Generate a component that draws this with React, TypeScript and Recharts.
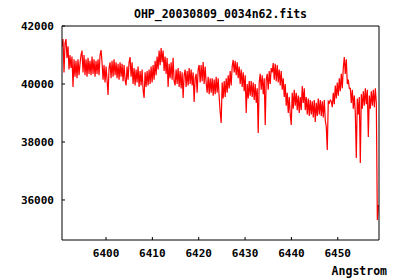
import { LineChart, Line, XAxis, YAxis } from "recharts";

const TITLE = "OHP_20030809_0034n62.fits";
const X_LABEL = "Angstrom";

const X_TICKS = [6400, 6410, 6420, 6430, 6440, 6450];
const Y_TICKS = [36000, 38000, 40000, 42000];

// sampling grid of the spectrum (Angstrom)
const WL_START = 6390.5;
const WL_STEP = 0.216;

// flux, one sample per grid step
const FLUX = [
  41300, 41550, 40400, 41400, 41550, 40900, 41300, 40500, 41000, 40550,
  40950, 39900, 40850, 40250, 40800, 40200, 40850, 40300, 40700, 41000,
  41150, 40400, 41000, 40300, 40850, 40250, 40900, 40350, 40800, 40300,
  40950, 40350, 40850, 40250, 40800, 40350, 40850, 40300, 41000, 41170,
  40750, 40150, 40650, 40050, 40600, 40150, 39620, 40550, 40750, 40200,
  40800, 40250, 40850, 40300, 40750, 40200, 40700, 40150, 40750, 40250,
  40700, 40100, 40650, 40150, 39950, 40600, 40150, 40750, 40930, 40250,
  40750, 40000, 40550, 39950, 40500, 40050, 40600, 39900, 40450, 39950,
  40500, 39800, 39520, 40400, 39900, 40450, 39950, 40500, 40000, 40600,
  40050, 40650, 40150, 40800, 40300, 40950, 40500, 41150, 40650, 41240,
  40750, 41150, 40450, 40950, 40350, 40900, 39900, 40700, 40200, 40750,
  40150, 40900, 40100, 39950, 40500, 40000, 40550, 39900, 40450, 39850,
  40400, 39520, 40300, 40500, 39900, 40450, 39950, 40550, 40000, 40500,
  39950, 40400, 39380, 40200, 40350, 39700, 40500, 40655, 40050, 40650,
  40100, 40760, 40000, 40600, 40050, 39700, 40250, 39650, 40200, 39700,
  40200, 39600, 40150, 39650, 40250, 39700, 40200, 39550, 39035, 38655,
  40050, 39500, 40100, 39550, 40200, 39700, 40300, 39850, 40450, 39950,
  40600, 40830, 40400, 40800, 40300, 40750, 40200, 40600, 40000, 40500,
  39900, 40400, 39750, 40300, 39000, 40000, 39500, 40100, 39600, 40100,
  39550, 40050, 39450, 40000, 39350, 39850, 38310, 40050, 40350, 39800,
  40300, 39650, 40200, 38590, 40150, 40350, 39800, 40450, 40000, 40550,
  40400, 40725, 40150, 40700, 40100, 40650, 40050, 40500, 39950, 40450,
  39800, 40200, 39550, 40000, 39250, 39700, 39000, 39550, 38950, 38590,
  39700, 39150, 39800, 39250, 39700, 39100, 39600, 39000, 39550, 39100,
  39930, 39350, 39850, 39100, 39550, 38950, 39500, 38900, 39450, 38950,
  39400, 38850, 39450, 38690, 39350, 38900, 39500, 38950, 39450, 38900,
  39400, 38850, 39450, 38750, 38520, 37724, 39400, 39350, 39450, 39400,
  39200, 39700, 39300, 39950, 39500, 40050, 39600, 40200, 39750, 40350,
  39850, 40550, 40930, 40350, 40850, 40000, 40150, 39850, 39850, 39350,
  39800, 39150, 39600, 39000, 37450, 39500, 38950, 39550, 37276, 39650,
  39150, 39750, 39250, 39850, 39300, 39800, 38172, 39600, 39150, 39750,
  39250, 39800, 39200, 39850, 39350, 35310, 35830,
];

const data = FLUX.map((f, i) => ({ wl: WL_START + i * WL_STEP, flux: f }));

const font = "'DejaVu Sans Mono', monospace";
const tickStyle = { fontSize: 11, fontFamily: font, fontWeight: "bold", fill: "#000" };
const axisLine = { stroke: "#000", strokeWidth: 1 };

export default function App() {
  return (
    <div style={{ position: "absolute", left: 0, top: 0, width: 400, height: 280, background: "#fff" }}>
      <div
        style={{
          position: "absolute", left: 0, width: 441, top: 7, textAlign: "center",
          fontFamily: font, fontWeight: "bold", fontSize: 11.5, lineHeight: "14px", color: "#000",
        }}
      >
        {TITLE}
      </div>
      <div
        style={{
          position: "absolute", right: 13, top: 264, fontFamily: font, fontWeight: "bold",
          fontSize: 11.5, lineHeight: "14px", color: "#000",
        }}
      >
        {X_LABEL}
      </div>
      <LineChart width={400} height={280} data={data} margin={{ top: 0, right: 0, bottom: 0, left: 0 }}>
        <XAxis
          dataKey="wl" type="number" domain={[6390.5, 6458.9]} allowDataOverflow
          ticks={X_TICKS} interval={0} height={40} tickSize={-3} tickMargin={12}
          axisLine={axisLine} tickLine={{ stroke: "#000" }} tick={tickStyle}
        />
        <XAxis
          xAxisId="top" orientation="top" type="number" domain={[6390.5, 6458.9]} allowDataOverflow
          ticks={X_TICKS} interval={0} height={26} tickSize={-3} tick={false}
          axisLine={axisLine} tickLine={{ stroke: "#000" }}
        />
        <YAxis
          type="number" domain={[34620, 42000]} allowDataOverflow ticks={Y_TICKS} interval={0}
          width={62} tickSize={-3} tickMargin={11}
          axisLine={axisLine} tickLine={{ stroke: "#000" }} tick={tickStyle}
        />
        <YAxis
          yAxisId="right" orientation="right" type="number" domain={[34620, 42000]} allowDataOverflow
          ticks={Y_TICKS} interval={0} width={21} tickSize={-3} tick={false}
          axisLine={axisLine} tickLine={{ stroke: "#000" }}
        />
        <Line
          type="linear" dataKey="flux" stroke="#ff0000" strokeWidth={1.2}
          dot={false} isAnimationActive={false}
        />
      </LineChart>
    </div>
  );
}
